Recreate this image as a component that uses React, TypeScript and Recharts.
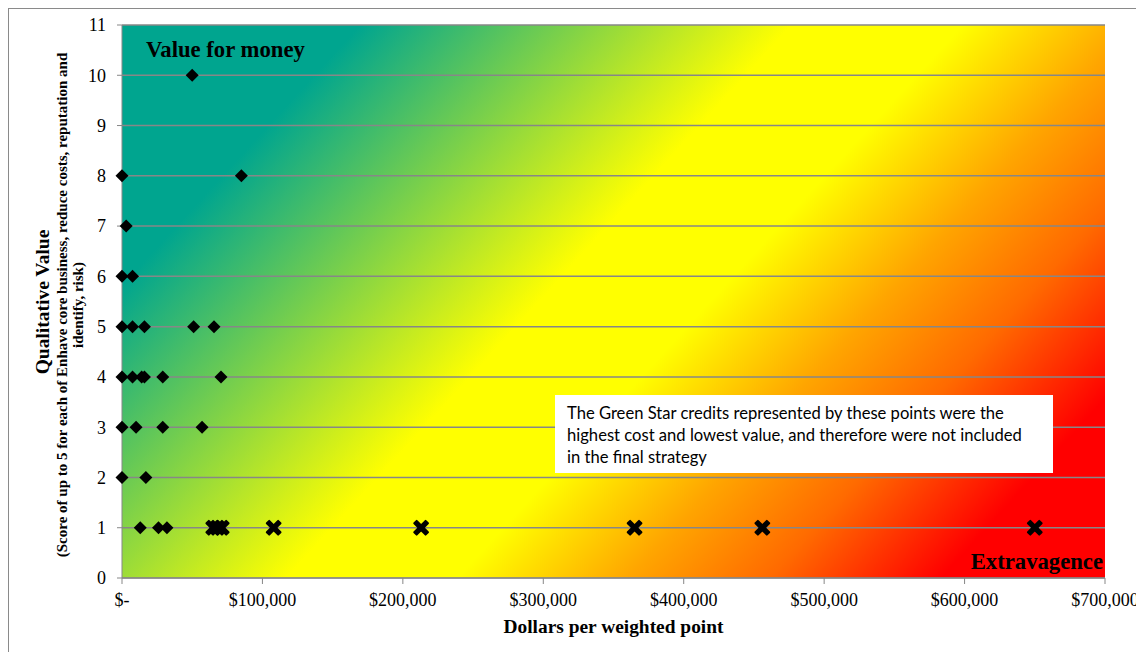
import React from "react";
import { ScatterChart, Scatter, XAxis, YAxis, CartesianGrid } from "recharts";

// credits kept in the strategy
const keptCost = [
  50000,
  0, 85000,
  3000,
  0, 7500,
  0, 7500, 16000, 51000, 65500,
  0, 7500, 14000, 16000, 29000, 70500,
  0, 10000, 29000, 57000,
  0, 17000,
  13000, 26000, 32000,
];
const keptScore = [
  10,
  8, 8,
  7,
  6, 6,
  5, 5, 5, 5, 5,
  4, 4, 4, 4, 4, 4,
  3, 3, 3, 3,
  2, 2,
  1, 1, 1,
];

// credits dropped (highest cost, lowest value)
const droppedCost = [65000, 68000, 71000, 108000, 213000, 365000, 456000, 650000];
const droppedScore = [1, 1, 1, 1, 1, 1, 1, 1];

const xTicks = [0, 100000, 200000, 300000, 400000, 500000, 600000, 700000];
const yTicks = [0, 1, 2, 3, 4, 5, 6, 7, 8, 9, 10, 11];

const noteLines = [
  "The Green Star credits represented by these points were the",
  "highest cost and lowest value, and therefore were not included",
  "in the final strategy",
];

const kept = keptCost.map((x, i) => ({ x, y: keptScore[i] }));
const dropped = droppedCost.map((x, i) => ({ x, y: droppedScore[i] }));

const serif = "'Liberation Serif', 'Times New Roman', serif";
const gridGrey = "#878787";

function Diamond(props: any) {
  const { cx, cy } = props;
  const r = 6.5;
  return (
    <polygon
      points={`${cx},${cy - r} ${cx + r},${cy} ${cx},${cy + r} ${cx - r},${cy}`}
      fill="#000"
    />
  );
}

function Cross(props: any) {
  const { cx, cy } = props;
  return (
    <g transform={`translate(${cx},${cy}) rotate(45)`} fill="#000">
      <rect x={-9} y={-2.7} width={18} height={5.4} rx={1} />
      <rect x={-2.7} y={-9} width={5.4} height={18} rx={1} />
    </g>
  );
}

function fmtDollar(v: number) {
  if (v === 0) return "$-";
  return "$" + v.toLocaleString("en-US");
}

function YTitle() {
  const cy = 296;
  return (
    <g fontFamily={serif} fontWeight="bold" fill="#000">
      <text x={33} y={cy - 3} fontSize={19.5} textAnchor="middle" dominantBaseline="central" transform={`rotate(-90, 33, ${cy - 3})`}>
        Qualitative Value
      </text>
      <text x={53} y={cy} fontSize={15} textAnchor="middle" dominantBaseline="central" transform={`rotate(-90, 53, ${cy})`}>
        (Score of up to 5 for each of Enhave core business, reduce costs, reputation and
      </text>
      <text x={69} y={cy} fontSize={15} textAnchor="middle" dominantBaseline="central" transform={`rotate(-90, 69, ${cy})`}>
        identify, risk)
      </text>
    </g>
  );
}

function XTitle() {
  return (
    <g fill="#000">
      <text x={604.5} y={624} fontFamily={serif} fontWeight="bold" fontSize={19.4} textAnchor="middle">
        Dollars per weighted point
      </text>
      <text x={137} y={48} fontFamily={serif} fontWeight="bold" fontSize={22.7}>
        Value for money
      </text>
      <text x={1094} y={560} fontFamily={serif} fontWeight="bold" fontSize={22.7} textAnchor="end">
        Extravagence
      </text>
      <rect x={546} y={386} width={498} height={78} fill="#fff" />
      {noteLines.map((t, i) => (
        <text key={i} x={558} y={410 + i * 22} fontFamily="Lato, 'Open Sans', sans-serif" fontSize={16.6} fill="#000">
          {t}
        </text>
      ))}
    </g>
  );
}

export default function App() {
  return (
    <div style={{ width: 1140, height: 650, border: "1px solid #8a8a8a", background: "#fff" }}>
      <ScatterChart width={1140} height={650} margin={{ top: 16, right: 44, bottom: 0, left: 0 }}>
        <defs>
          <linearGradient id="valueBg" gradientUnits="userSpaceOnUse" x1={113} y1={16} x2={924} y2={757}>
            <stop offset="0" stopColor="#00A58F" />
            <stop offset="0.16" stopColor="#00A58F" />
            <stop offset="0.45" stopColor="#FFFF00" />
            <stop offset="0.565" stopColor="#FFFF00" />
            <stop offset="0.68" stopColor="#FFA500" />
            <stop offset="0.775" stopColor="#FF6A00" />
            <stop offset="0.89" stopColor="#FF0000" />
            <stop offset="1" stopColor="#FF0000" />
          </linearGradient>
        </defs>
        <CartesianGrid vertical={false} stroke={gridGrey} strokeWidth={1.5} fill="url(#valueBg)" fillOpacity={1} />
        <XAxis
          type="number"
          dataKey="x"
          domain={[0, 700000]}
          ticks={xTicks}
          tickFormatter={fmtDollar}
          height={81}
          tickSize={6}
          tickMargin={9}
          interval={0}
          stroke={gridGrey}
          tick={{ fill: "#000", fontSize: 18, fontFamily: serif }}
          label={XTitle}
        />
        <YAxis
          type="number"
          dataKey="y"
          domain={[0, 11]}
          ticks={yTicks}
          width={113}
          tickSize={5}
          tickMargin={11}
          interval={0}
          stroke={gridGrey}
          tick={{ fill: "#000", fontSize: 18, fontFamily: serif }}
          label={YTitle}
        />
        <Scatter data={kept} shape={Diamond} isAnimationActive={false} />
        <Scatter data={dropped} shape={Cross} isAnimationActive={false} />
      </ScatterChart>
    </div>
  );
}
